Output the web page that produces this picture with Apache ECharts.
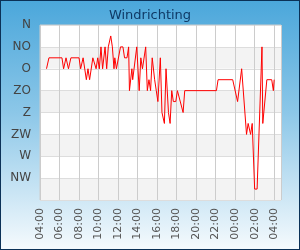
<!DOCTYPE html>
<html>
<head>
<meta charset="utf-8">
<script src="https://cdn.jsdelivr.net/npm/echarts@6/dist/echarts.min.js"></script>
<style>
  html, body { margin: 0; padding: 0; }
  #wrap {
    width: 300px; height: 250px; box-sizing: border-box;
    border: 1px solid #0b3157;
    background: linear-gradient(to bottom, #4ba7db 0%, #8cc7e8 45%, #f5fafd 100%);
  }
  #chart { width: 298px; height: 248px; }
</style>
</head>
<body>
<div id="wrap"><div id="chart"></div></div>
<script>
// wind direction labels, top to bottom
const directions = ['N', 'NO', 'O', 'ZO', 'Z', 'ZW', 'W', 'NW', '']

// measurement times (04:40 day 1 .. 04:00 day 2)
const times = [
  '04:40', '04:55', '06:15', '06:25', '06:40', '06:50', '06:55', '07:10', '08:00', '08:10',
  '08:25', '08:35', '08:45', '08:55', '09:05', '09:25', '09:35', '09:45', '09:55', '10:05',
  '10:15', '10:25', '10:40', '10:50', '11:00', '11:15', '11:25', '11:35', '11:40', '11:50',
  '12:00', '12:15', '12:30', '12:40', '12:55', '13:05', '13:10', '13:25', '13:30', '13:55',
  '14:10', '14:20', '14:30', '14:50', '15:00', '15:10', '15:20', '15:30', '15:45', '15:55',
  '16:05', '16:20', '16:30', '16:45', '16:55', '17:10', '17:20', '17:30', '17:40', '17:55',
  '18:05', '18:15', '18:40', '18:50', '22:05', '22:15', '23:45', '00:15', '00:40', '00:50',
  '01:10', '01:20', '01:35', '01:45', '01:55', '02:00', '02:15', '02:45', '02:50', '03:15',
  '03:45', '03:55', '04:00'
]

// direction index (0 = N, 1 = NO, 2 = O, ... half steps in between)
const windDir = [
  2, 1.5, 1.5, 2, 1.5, 1.5, 2, 1.5, 1.5, 2,
  1.5, 1.5, 2.5, 2, 2.5, 1.5, 1.5, 2, 1.5, 2,
  1, 2, 1, 2, 1, 0.5, 1, 2, 1.5, 2,
  2, 1, 1, 1.5, 1.5, 1, 3, 2, 2.5, 1,
  3, 1.5, 2, 1, 3, 2.5, 3, 1.5, 2.5, 3,
  3.5, 1.5, 4, 4.5, 2, 4, 4.5, 3, 3.5, 3.5,
  3, 3, 4, 3, 3, 2.5, 2.5, 3.5, 2, 2,
  5, 4.5, 5, 4.5, 4.5, 7.5, 7.5, 1, 4.5, 2.5,
  2.5, 3, 2.5
]

// minutes since 04:00 on day 1, rolling over past midnight
let prev = -1
const points = times.map((t, i) => {
  const [h, m] = t.split(':').map(Number)
  let min = (h - 4) * 60 + m
  while (min < prev) min += 1440
  prev = min
  return [min, windDir[i]]
})

const chart = echarts.init(document.getElementById('chart'))
const font = 'DejaVu Sans'

chart.setOption({
  animation: false,
  textStyle: { fontFamily: font },
  title: {
    text: 'Windrichting',
    left: 'center',
    top: 3,
    textStyle: { fontFamily: font, fontSize: 13, fontWeight: 'normal', color: '#0f3a66' }
  },
  grid: {
    left: 39, right: 18, top: 24, bottom: 49,
    show: true, backgroundColor: '#fff', borderColor: '#cccccc', borderWidth: 1
  },
  xAxis: {
    type: 'value',
    min: 0,
    max: 1482,
    interval: 120,
    axisLine: { show: false },
    axisTick: { show: false },
    splitLine: { show: true, lineStyle: { color: '#cccccc', width: 1 } },
    axisLabel: {
      rotate: 90,
      margin: 8,
      fontSize: 11,
      color: '#555',
      showMaxLabel: false,
      formatter: v => {
        const h = (Math.round(v / 60) + 4) % 24
        return (h < 10 ? '0' : '') + h + ':00'
      }
    }
  },
  yAxis: {
    type: 'value',
    inverse: true,
    min: 0,
    max: 8,
    interval: 1,
    axisLine: { show: false },
    axisTick: { show: false },
    splitLine: { show: true, lineStyle: { color: '#dddddd', width: 1 } },
    splitArea: { show: true, areaStyle: { color: ['#ffffff', '#f3f3f3'] } },
    axisLabel: {
      margin: 9,
      fontSize: 12,
      color: '#444',
      formatter: v => directions[v] || ''
    }
  },
  series: [{
    type: 'line',
    data: points,
    showSymbol: false,
    lineStyle: { color: '#ff0000', width: 1 },
    itemStyle: { color: '#ff0000' }
  }]
})
</script>
</body>
</html>
